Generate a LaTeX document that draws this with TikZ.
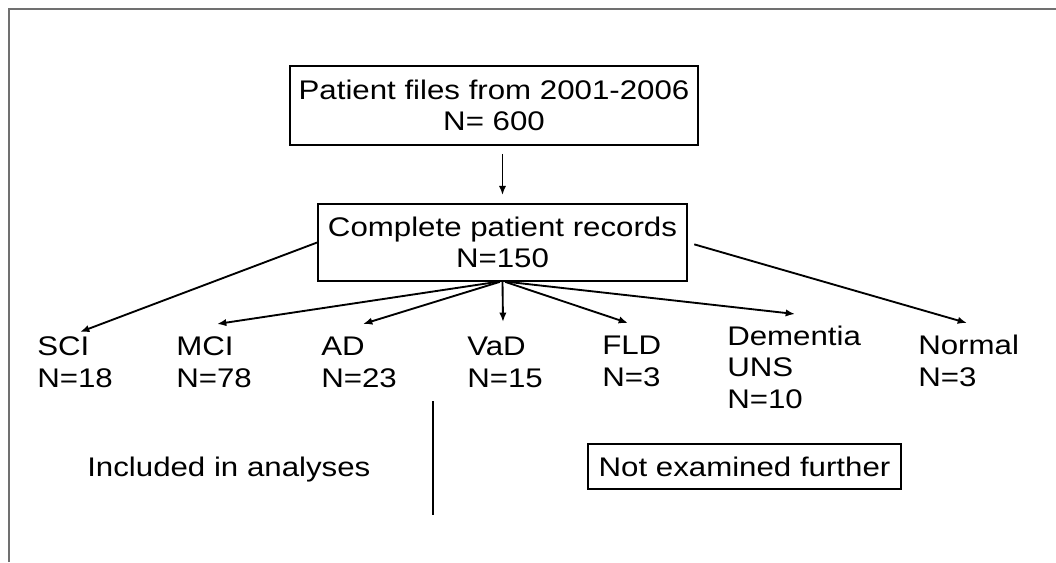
\documentclass[tikz,border=0pt]{standalone}
\usepackage{fontspec}
\setmainfont{Liberation Sans}[FakeStretch=1.16]
\usetikzlibrary{arrows.meta}
\definecolor{frame-gray}{RGB}{112,112,112}

\begin{document}
\begin{tikzpicture}[x=0.75pt, y=-0.75pt,
    every node/.style={font=\fontsize{20.2pt}{23.6pt}\selectfont, inner sep=0pt},
    box/.style={draw, line width=1.3pt, align=center},
    group/.style={align=left, anchor=base west},
    arr/.style={line width=1.4pt, -{Latex[length=7pt,width=5.5pt]}}]
\useasboundingbox (0,0) rectangle (1056,562);
\draw[frame-gray, line width=1.5pt] (9,562) -- (9,9) -- (1056,9);
\node[box, minimum width=306pt, minimum height=59.25pt] (files) at (494,105.5) {Patient files from 2001-2006\\N= 600};
\node[box, minimum width=276.75pt, minimum height=57.75pt] (rec) at (502.5,242.5) {Complete patient records\\N=150};
\node[group] (sci) at (37,387) {SCI\\N=18};
\node[group] (mci) at (176,387) {MCI\\N=78};
\node[group] (ad) at (321,387) {AD\\N=23};
\node[group] (vad) at (467,387) {VaD\\N=15};
\node[group] (fld) at (602,386) {FLD\\N=3};
\node[group] (dem) at (727,408) {Dementia\\UNS\\N=10};
\node[group] (normal) at (918,386) {Normal\\N=3};
\node[anchor=base west] (incl) at (87,476) {Included in analyses};
\node[box, minimum width=234.75pt, minimum height=33.75pt] (notex) at (744.5,466.5) {Not examined further};
\coordinate (sci-tip) at (80,332);
\coordinate (mci-tip) at (217,324);
\coordinate (ad-tip) at (363,324);
\coordinate (vad-tip) at (503,322);
\coordinate (fld-tip) at (628,323);
\coordinate (dem-tip) at (795,314);
\coordinate (normal-tip) at (967,323);
\coordinate (split-top) at (433,401);
\coordinate (split-bot) at (433,515);
\draw[arr, shorten <=6pt, shorten >=6pt] (files.south -| rec.north) -- (rec.north);
\draw[arr] (rec.west) -- (sci-tip);
\draw[arr] ([xshift=-4pt]rec.south) -- (mci-tip);
\draw[arr] ([xshift=-2pt]rec.south) -- (ad-tip);
\draw[arr] (rec.south) -- (vad-tip);
\draw[arr] ([xshift=2pt]rec.south) -- (fld-tip);
\draw[arr] ([xshift=4pt]rec.south) -- (dem-tip);
\draw[arr, shorten <=5pt] (rec.east) -- (normal-tip);
\draw[line width=1.4pt] (split-top) -- (split-bot);
\end{tikzpicture}
\end{document}
